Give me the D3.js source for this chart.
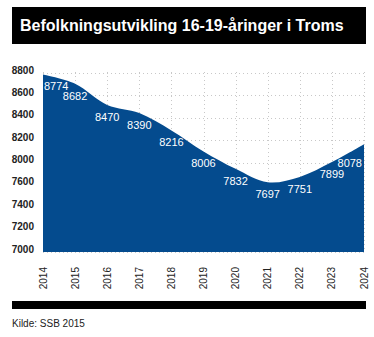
<!DOCTYPE html>
<html>
<head>
<meta charset="utf-8">
<script src="https://cdn.jsdelivr.net/npm/d3@7"></script>
<style>
  body { margin: 0; background: #fff; }
  svg { display: block; font-family: "Liberation Sans", Arial, sans-serif; }
</style>
</head>
<body>
<svg width="374" height="337"></svg>
<script>
// Data
let years = [2014, 2015, 2016, 2017, 2018, 2019, 2020, 2021, 2022, 2023, 2024];
let values = [8774, 8682, 8470, 8390, 8216, 8006, 7832, 7697, 7751, 7899, 8078];
// the labels on the y axis as printed (7800 is not shown in the original)
let yTickLabels = ["8800", "8600", "8400", "8200", "8000", "7600", "7400", "7200", "7000"];

let svg = d3.select("svg");

// Title bar
svg.append("rect")
    .attr("x", 12).attr("y", 7)
    .attr("width", 354).attr("height", 37)
    .attr("fill", "#000");
svg.append("text")
    .attr("x", 20).attr("y", 31)
    .attr("fill", "#fff")
    .attr("font-size", 16)
    .attr("font-weight", "bold")
    .text("Befolkningsutvikling 16-19-åringer i Troms");

let x = d3.scalePoint()
    .domain(years)
    .range([43, 364]);

let y = d3.scaleLinear()
    .domain([7000, 8800])
    .range([252, 72]);

// the printed labels are evenly spaced
let yLab = d3.scalePoint()
    .domain(yTickLabels)
    .range([73, 252]);

// grid
let grid = svg.append("g")
    .attr("stroke", "#c8c8c8")
    .attr("stroke-width", 1)
    .attr("stroke-dasharray", "1,3");

grid.selectAll(".hg")
    .data(yTickLabels)
    .enter().append("line")
    .attr("x1", x(years[0]))
    .attr("x2", x(years[years.length - 1]))
    .attr("y1", function (d) { return Math.round(yLab(d)) + 0.5; })
    .attr("y2", function (d) { return Math.round(yLab(d)) + 0.5; });

grid.selectAll(".vg")
    .data(years)
    .enter().append("line")
    .attr("x1", function (d) { return Math.round(x(d)) + 0.5; })
    .attr("x2", function (d) { return Math.round(x(d)) + 0.5; })
    .attr("y1", 72)
    .attr("y2", 252);

// area
let area = d3.area()
    .x(function (d, i) { return x(years[i]); })
    .y0(y(7000))
    .y1(function (d) { return y(d); })
    .curve(d3.curveCatmullRom.alpha(0.5));

svg.append("path")
    .datum(values)
    .attr("d", area)
    .attr("fill", "#044b8e");

// data labels (first and last are kept inside the plot)
let last = values.length - 1;
svg.append("g")
    .attr("font-size", 11)
    .attr("fill", "#fff")
    .selectAll("text")
    .data(values)
    .enter().append("text")
    .attr("x", function (d, i) {
        if (i === 0) return x(years[i]) + 1;
        if (i === last) return x(years[i]) - 2;
        return x(years[i]);
    })
    .attr("y", function (d, i) { return y(d) + (i === last ? 19 : 12); })
    .attr("dy", "0.35em")
    .attr("text-anchor", function (d, i) {
        if (i === 0) return "start";
        if (i === last) return "end";
        return "middle";
    })
    .text(function (d) { return d; });

// y axis labels
svg.append("g")
    .attr("font-size", 10)
    .attr("font-weight", "bold")
    .attr("fill", "#222")
    .attr("text-anchor", "end")
    .selectAll("text")
    .data(yTickLabels)
    .enter().append("text")
    .attr("x", 34)
    .attr("y", function (d) { return yLab(d) - 3; })
    .attr("dy", "0.35em")
    .text(function (d) { return d; });

// x axis labels
svg.append("g")
    .attr("font-size", 10)
    .attr("fill", "#222")
    .selectAll("text")
    .data(years)
    .enter().append("text")
    .attr("text-anchor", "end")
    .attr("transform", function (d) {
        return "translate(" + x(d) + ",267) rotate(-90)";
    })
    .attr("dy", "0.35em")
    .text(function (d) { return d; });

// bottom bar and source
svg.append("rect")
    .attr("x", 12).attr("y", 301)
    .attr("width", 354).attr("height", 8)
    .attr("fill", "#000");

svg.append("text")
    .attr("x", 12).attr("y", 327)
    .attr("font-size", 10)
    .attr("fill", "#222")
    .text("Kilde: SSB 2015");
</script>
</body>
</html>
